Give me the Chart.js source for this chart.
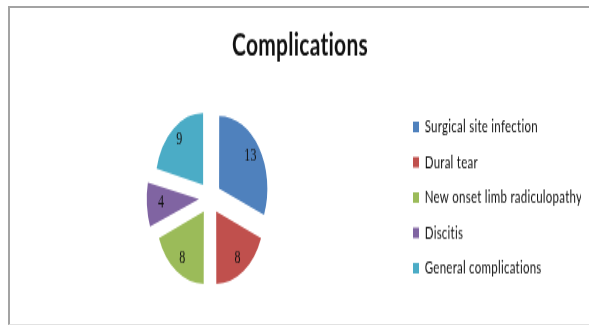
<!DOCTYPE html>
<html>
<head>
<meta charset="utf-8">
<script src="https://cdn.jsdelivr.net/npm/chart.js@4"></script>
<style>
  html, body { margin: 0; padding: 0; background: #fff; }
  body { width: 589px; height: 326px; position: relative; overflow: hidden; }
  .frame {
    position: absolute; left: 8px; top: 6px; width: 600px; height: 316px;
    border-left: 2px solid #a3a3a3; border-top: 2px solid #a3a3a3;
    border-bottom: 1px solid #e2e2e2;
  }
  /* the chart is laid out flat, then stretched tall */
  .wrap {
    position: absolute; left: 0; top: 0; width: 589px; height: 217px;
    transform: scale(1, 1.5023); transform-origin: 0 0;
  }
</style>
</head>
<body>
<div class="frame"></div>
<div class="wrap"><canvas id="complicationsChart" width="589" height="217"></canvas></div>
<script>
const categories = ['Surgical site infection', 'Dural tear', 'New onset limb radiculopathy', 'Discitis', 'General complications'];
const counts = [13, 8, 8, 4, 9];
const sliceColors = ['#4f81bd', '#c0504d', '#9bbb59', '#8064a2', '#4bacc6'];

// a touch of tracking, which also keeps Lato from joining "ti" / "fi"
const textSpacing = {
    id: 'textSpacing',
    beforeDraw(chart) {
        chart.ctx.letterSpacing = '0.25px';
    }
};

// value labels inside each exploded slice
const sliceLabels = {
    id: 'sliceLabels',
    afterDatasetsDraw(chart) {
        const ctx = chart.ctx;
        const meta = chart.getDatasetMeta(0);
        ctx.save();
        ctx.font = '12px "Liberation Serif", serif';
        ctx.fillStyle = '#111';
        ctx.textAlign = 'center';
        ctx.textBaseline = 'middle';
        meta.data.forEach((arc, i) => {
            const p = arc.getProps(['x', 'y', 'startAngle', 'endAngle', 'outerRadius']);
            const mid = (p.startAngle + p.endAngle) / 2;
            // ArcElement moves a slice by a quarter of its offset option
            const shift = arc.options.offset / 4;
            const r = shift + p.outerRadius * 0.8;
            ctx.fillText(String(counts[i]), p.x + Math.cos(mid) * r, p.y + Math.sin(mid) * r);
        });
        ctx.restore();
    }
};

const ctx = document.getElementById('complicationsChart').getContext('2d');
new Chart(ctx, {
    type: 'pie',
    data: {
        labels: categories,
        datasets: [{
            data: counts,
            backgroundColor: sliceColors,
            borderWidth: 0,
            offset: 44,
            radius: 47.5
        }]
    },
    options: {
        responsive: false,
        animation: false,
        layout: { padding: { left: 19, right: 8, top: 0, bottom: 6 } },
        plugins: {
            title: {
                display: true,
                text: 'Complications',
                color: '#111',
                font: { family: 'Lato', size: 21, weight: 'bold' },
                padding: { top: 18, bottom: 9 }
            },
            legend: {
                position: 'right',
                fullSize: false,
                maxWidth: 180,
                labels: {
                    boxWidth: 6,
                    boxHeight: 7,
                    padding: 12,
                    color: '#111',
                    font: { family: 'Lato', size: 11.5 }
                }
            },
            tooltip: { enabled: false }
        }
    },
    plugins: [textSpacing, sliceLabels]
});
</script>
</body>
</html>
